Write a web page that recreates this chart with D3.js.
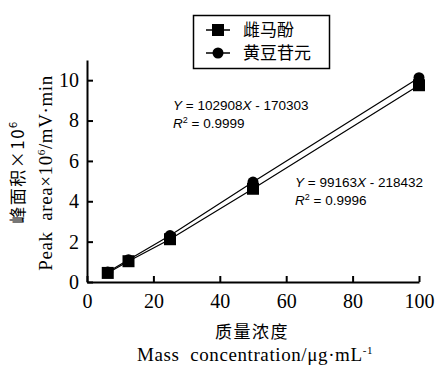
<!DOCTYPE html>
<html>
<head>
<meta charset="utf-8">
<script src="https://cdn.jsdelivr.net/npm/d3@7"></script>
<style>
  body { margin: 0; background: #fff; }
  svg { display: block; }
  text { white-space: pre; }
</style>
</head>
<body>
<div id="chart"></div>
<script>
// concentration (µg/mL) and peak area (x10^6)
const conc = [6.25, 12.5, 25, 50, 100];
const equol = [0.45, 1.03, 2.12, 4.62, 9.75];     // 雌马酚, squares
const daidzein = [0.50, 1.10, 2.30, 4.95, 10.12]; // 黄豆苷元, circles
const xTicks = [0, 20, 40, 60, 80, 100];
const yTicks = [0, 2, 4, 6, 8, 10];

const width = 435, height = 365;
const serif = "'Liberation Serif', 'Times New Roman', serif";
const cjk = "'Noto Sans CJK SC', sans-serif";
const sans = "'Liberation Sans', Arial, sans-serif";

const svg = d3.select("#chart").append("svg")
	.attr("width", width)
	.attr("height", height);

var x = d3.scaleLinear().domain([0, 100]).range([87, 419]);
var y = d3.scaleLinear().domain([0, 11]).range([282, 60]);

// axes, ticks point inward
var gx = svg.append("g")
	.attr("transform", "translate(0," + y(0) + ")")
	.call(d3.axisBottom(x).tickValues(xTicks).tickSizeInner(-6).tickSizeOuter(0).tickPadding(12));
var gy = svg.append("g")
	.attr("transform", "translate(" + x(0) + ",0)")
	.call(d3.axisLeft(y).tickValues(yTicks).tickSizeInner(-6).tickSizeOuter(0).tickPadding(12));

svg.selectAll(".domain").attr("stroke", "#000").attr("stroke-width", 2);
svg.selectAll(".tick line").attr("stroke", "#000").attr("stroke-width", 2);
svg.selectAll(".tick text")
	.attr("fill", "#000")
	.style("font-family", serif)
	.style("font-size", "20px");
gy.selectAll(".tick text").attr("x", -8);

// series lines
var line = d3.line()
	.x((d, i) => x(conc[i]))
	.y(d => y(d));

[equol, daidzein].forEach(s => {
	svg.append("path")
		.datum(s)
		.attr("fill", "none")
		.attr("stroke", "#000")
		.attr("stroke-width", 1.2)
		.attr("d", line);
});

// markers
svg.selectAll(".sq")
	.data(equol)
	.enter()
	.append("rect")
		.attr("x", (d, i) => x(conc[i]) - 6)
		.attr("y", d => y(d) - 6)
		.attr("width", 12)
		.attr("height", 12)
		.attr("fill", "#000");

svg.selectAll(".dot")
	.data(daidzein)
	.enter()
	.append("circle")
		.attr("cx", (d, i) => x(conc[i]))
		.attr("cy", d => y(d))
		.attr("r", 5.5)
		.attr("fill", "#000");

// regression annotations
function equation(xp, yp, a, b, r2) {
	var t = svg.append("text")
		.attr("x", xp).attr("y", yp)
		.style("font-family", sans)
		.style("font-size", "13.5px");
	t.append("tspan").style("font-style", "italic").text("Y");
	t.append("tspan").text(" = " + a);
	t.append("tspan").style("font-style", "italic").text("X");
	t.append("tspan").text(" - " + b);
	var r = svg.append("text")
		.attr("x", xp).attr("y", yp + 18)
		.style("font-family", sans)
		.style("font-size", "13.5px");
	r.append("tspan").style("font-style", "italic").text("R");
	r.append("tspan").attr("dy", -5).style("font-size", "9px").text("2");
	r.append("tspan").attr("dy", 5).text(" = " + r2);
}
equation(173, 110, "102908", "170303", "0.9999");
equation(295, 187, "99163", "218432", "0.9996");

// legend
var lg = svg.append("g");
lg.append("rect")
	.attr("x", 193.5).attr("y", 15.5)
	.attr("width", 136).attr("height", 53)
	.attr("fill", "#fff").attr("stroke", "#000").attr("stroke-width", 1.5);
var entries = [{name: "雌马酚", shape: "sq"}, {name: "黄豆苷元", shape: "dot"}];
entries.forEach((e, i) => {
	var cy = 30 + i * 23;
	lg.append("line")
		.attr("x1", 206).attr("x2", 230)
		.attr("y1", cy).attr("y2", cy)
		.attr("stroke", "#000").attr("stroke-width", 1.5);
	if (e.shape == "sq") {
		lg.append("rect").attr("x", 212).attr("y", cy - 6).attr("width", 12).attr("height", 12).attr("fill", "#000");
	} else {
		lg.append("circle").attr("cx", 218).attr("cy", cy).attr("r", 5.5).attr("fill", "#000");
	}
	lg.append("text")
		.attr("x", 243).attr("y", cy)
		.attr("dy", "0.36em")
		.style("font-family", cjk)
		.style("font-size", "17px")
		.text(e.name);
});

// axis titles
svg.append("text")
	.attr("text-anchor", "middle")
	.attr("x", 252).attr("y", 338)
	.style("font-family", cjk)
	.style("font-size", "17px")
	.style("letter-spacing", "1.5px")
	.text("质量浓度");
var xt = svg.append("text")
	.attr("text-anchor", "middle")
	.attr("x", 255).attr("y", 361)
	.style("font-family", serif)
	.style("font-size", "19px")
	.style("letter-spacing", "0.6px");
xt.append("tspan").text("Mass  concentration/μg·mL");
xt.append("tspan").attr("dy", -7).style("font-size", "11px").text("-1");

var yt1 = svg.append("text")
	.attr("text-anchor", "middle")
	.attr("transform", "translate(24,172) rotate(-90)")
	.style("font-family", cjk)
	.style("font-size", "17px")
	.style("letter-spacing", "1.5px");
yt1.append("tspan").text("峰面积×10");
yt1.append("tspan").attr("dy", -7).style("font-size", "11px").text("6");

var yt2 = svg.append("text")
	.attr("text-anchor", "middle")
	.attr("transform", "translate(52,173) rotate(-90)")
	.style("font-family", serif)
	.style("font-size", "19px")
	.style("letter-spacing", "0.6px");
yt2.append("tspan").text("Peak  area×10");
yt2.append("tspan").attr("dy", -7).style("font-size", "11px").text("6");
yt2.append("tspan").attr("dy", 7).text("/mV·min");
</script>
</body>
</html>
